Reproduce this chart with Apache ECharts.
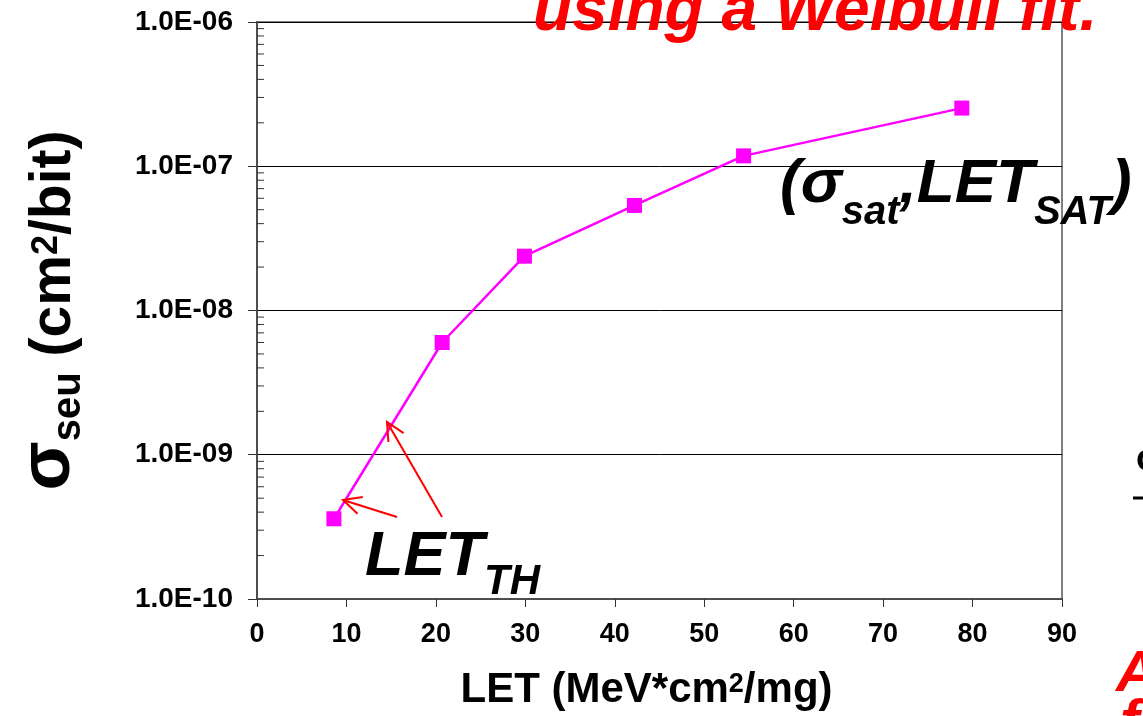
<!DOCTYPE html>
<html><head><meta charset="utf-8">
<script src="https://cdn.jsdelivr.net/npm/echarts@6/dist/echarts.min.js"></script>
<style>html,body{margin:0;padding:0;background:#fff}#c{width:1143px;height:716px}</style>
</head><body><div id="c"></div>
<script>
// ---- data ----
const letValues = [8.6, 20.7, 29.9, 42.2, 54.4, 78.8];
const sigmaValues = [3.6e-10, 6.0e-9, 2.38e-8, 5.35e-8, 1.18e-7, 2.53e-7];
const xMin = 0, xMax = 90, xStep = 10;
const yDecades = [-10, -9, -8, -7, -6];
const xTitleParts = ['LET (MeV*cm', '2', '/mg)'];
const yTitleParts = ['σ', 'seu', ' (cm', '2', '/bit)'];

const FONT = '"Liberation Sans", Arial, sans-serif';

const seriesData = letValues.map((x, i) => [x, sigmaValues[i]]);
const minorTickData = [];
yDecades.slice(0, -1).forEach(e => {
  for (let k = 2; k <= 9; k++) minorTickData.push([0, k * Math.pow(10, e)]);
});

function fmtExp(v) {
  const e = Math.round(Math.log10(v));
  const m = v / Math.pow(10, e);
  const sign = e < 0 ? '-' : '+';
  const ae = Math.abs(e);
  return m.toFixed(1) + 'E' + sign + (ae < 10 ? '0' + ae : ae);
}

function arrowEls(tx, ty, hx, hy) {
  const ang = Math.atan2(ty - hy, tx - hx);
  const L = 20, a = 26 * Math.PI / 180;
  const b1 = [hx + L * Math.cos(ang + a), hy + L * Math.sin(ang + a)];
  const b2 = [hx + L * Math.cos(ang - a), hy + L * Math.sin(ang - a)];
  return [
    {type: 'line', shape: {x1: tx, y1: ty, x2: hx, y2: hy}, style: {stroke: '#ff0000', lineWidth: 2}, z: 100},
    {type: 'polyline', shape: {points: [b1, [hx, hy], b2]}, style: {stroke: '#ff0000', lineWidth: 2, fill: null}, z: 100}
  ];
}

function tok(size, pad, italic) {
  return {fontFamily: FONT, fontWeight: 'bold', fontStyle: italic ? 'italic' : 'normal', fontSize: size,
          verticalAlign: 'top', padding: [pad, 0, 0, 0], color: '#000', fill: '#000'};
}

const chart = echarts.init(document.getElementById('c'), null, {renderer: 'canvas'});
const option = {
  backgroundColor: '#ffffff',
  animation: false,
  grid: {left: 257, width: 805, top: 22, height: 583, show: true, borderColor: '#808080', borderWidth: 2, backgroundColor: 'transparent'},
  xAxis: {
    type: 'value', min: xMin, max: xMax, interval: xStep,
    name: '{m|' + xTitleParts[0] + '}{p|' + xTitleParts[1] + '}{m|' + xTitleParts[2] + '}',
    nameLocation: 'middle', nameGap: 70,
    nameTextStyle: {
      fontFamily: FONT, fontWeight: 'bold', fontSize: 42, color: '#000', padding: [0, 26, 0, 0],
      rich: {m: tok(42, 0, false), p: tok(27, 2, false)}
    },
    axisLine: {show: true, onZero: false, lineStyle: {color: '#4d4d4d', width: 2}},
    axisTick: {show: true, inside: false, length: 8, lineStyle: {color: '#333', width: 1}},
    axisLabel: {fontFamily: FONT, fontWeight: 'bold', fontSize: 27, color: '#000', margin: 22},
    splitLine: {show: false}
  },
  yAxis: {
    type: 'log', logBase: 10, min: Math.pow(10, yDecades[0]), max: Math.pow(10, yDecades[yDecades.length - 1]),
    name: '{g|' + yTitleParts[0] + '}{s|' + yTitleParts[1] + '}{m|' + yTitleParts[2] + '}{p|' + yTitleParts[3] + '}{m|' + yTitleParts[4] + '}',
    nameLocation: 'middle', nameRotate: 90, nameGap: 168,
    nameTextStyle: {
      fontFamily: FONT, fontWeight: 'bold', fontSize: 57, color: '#000',
      rich: {g: tok(72, 0, false), s: tok(40, 36, false), m: tok(57, 13, false), p: tok(36, 16, false)}
    },
    axisLine: {show: true, lineStyle: {color: '#4d4d4d', width: 2}},
    axisTick: {show: true, inside: false, length: 9, lineStyle: {color: '#333', width: 1}},
    axisLabel: {fontFamily: FONT, fontWeight: 'bold', fontSize: 28, color: '#000', margin: 24, formatter: fmtExp},
    splitLine: {show: true, showMaxLine: false, showMinLine: false, lineStyle: {color: '#000', width: 1}}
  },
  series: [
    {
      type: 'custom', silent: true, z: 3, clip: false,
      renderItem: function (params, api) {
        const p = api.coord([0, api.value(1)]);
        return {type: 'line', shape: {x1: p[0], y1: p[1], x2: p[0] + 7, y2: p[1]}, style: {stroke: '#333', lineWidth: 1}};
      },
      data: minorTickData
    },
    {
      type: 'line', data: seriesData, symbol: 'rect', symbolSize: 15,
      itemStyle: {color: '#ff00ff'}, lineStyle: {color: '#ff00ff', width: 2.5}, z: 5
    }
  ],
  graphic: [
    {type: 'text', x: 533, y: 12, z: 100, style: {text: 'using a Weibull fit.', fill: '#ff0000', fontFamily: FONT, fontWeight: 'bold', fontStyle: 'italic', fontSize: 64, verticalAlign: 'middle', align: 'left'}},
    {type: 'text', x: 780, y: 154, z: 100, style: {
      text: '{m|(σ}{s|sat}{m|,LET}{s|SAT}{m|)}', fill: '#000',
      rich: {m: tok(62, 0, true), s: tok(40, 39, true)}}},
    {type: 'text', x: 365, y: 526, z: 100, style: {
      text: '{m|LET}{s|TH}', fill: '#000',
      rich: {m: tok(63, 0, true), s: tok(42, 35, true)}}},
    {type: 'text', x: 1116, y: 675, z: 100, style: {text: 'A', fill: '#ff0000', fontFamily: FONT, fontWeight: 'bold', fontStyle: 'italic', fontSize: 58, verticalAlign: 'middle'}},
    {type: 'text', x: 1120, y: 724, z: 100, style: {text: 'f', fill: '#ff0000', fontFamily: FONT, fontWeight: 'bold', fontStyle: 'italic', fontSize: 58, verticalAlign: 'middle'}},
    {type: 'text', x: 1136, y: 460, z: 100, style: {text: 'c', fill: '#000', fontFamily: FONT, fontWeight: 'bold', fontSize: 36, verticalAlign: 'middle'}},
    {type: 'line', shape: {x1: 1133, y1: 498, x2: 1143, y2: 498}, style: {stroke: '#000', lineWidth: 3}, z: 100}
  ].concat(arrowEls(397, 517, 343, 500), arrowEls(442, 517, 387, 422))
};
chart.setOption(option);
</script>
</body></html>
